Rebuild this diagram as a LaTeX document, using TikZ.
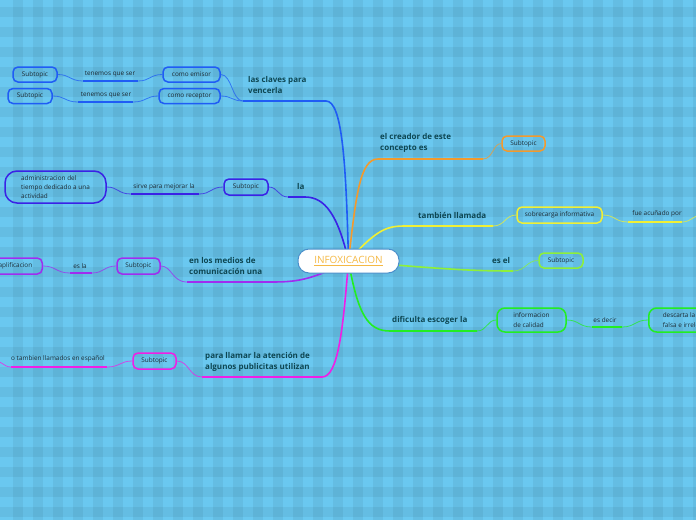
\documentclass[tikz,border=0pt]{standalone}
\usepackage{fontspec}
\setmainfont{Open Sans}
\definecolor{bgc}{HTML}{6AC8F0}
\definecolor{txt}{HTML}{1C2A33}
\definecolor{lab}{HTML}{0D4652}
\definecolor{cblue}{HTML}{1F5CF5}
\definecolor{cla}{HTML}{3A22E6}
\definecolor{cpur}{HTML}{A02CF0}
\definecolor{cmag}{HTML}{F01EE6}
\definecolor{corg}{HTML}{F29A2E}
\definecolor{cyel}{HTML}{F0F034}
\definecolor{clgr}{HTML}{8EF03A}
\definecolor{cgrn}{HTML}{22EE22}
\definecolor{cbord}{HTML}{4A8FCB}
\definecolor{ctitle}{HTML}{F5B945}
\pgfdeclarelayer{grid}
\pgfdeclarelayer{edges}
\pgfsetlayers{grid,edges,main}
\begin{document}
\begin{tikzpicture}[x=1pt,y=-1pt,
  box/.style={draw, rounded corners=5pt, line width=1.5pt, inner sep=0pt, minimum height=15pt,
    font=\fontsize{6.4}{8.5}\selectfont, text=txt},
  lbl/.style={font=\fontsize{8}{11}\selectfont\bfseries, text=lab, align=left, inner sep=0pt, anchor=west},
  ctext/.style={font=\fontsize{6.4}{8}\selectfont, text=txt, inner sep=0pt},
  mainln/.style={line width=1.6pt},
  subln/.style={line width=0.8pt, draw opacity=0.75},
  uline/.style={line width=2pt}]
\useasboundingbox (0,0) rectangle (696,520);
\clip (0,0) rectangle (696,520);

% ---------- nodes ----------
\node[draw=cbord, fill=white, line width=1pt, rounded corners=11pt, minimum width=101pt, minimum height=24pt,
  inner sep=0pt, font=\fontsize{10}{12}\selectfont, text=ctitle] (c) at (348.5,261) {\underline{INFOXICACION}};

% blue branch
\node[box, draw=cblue, minimum width=57pt] (b1a) at (191.5,74.5) {como emisor};
\node[box, draw=cblue, minimum width=61pt] (b1b) at (189.5,96) {como receptor};
\node[box, draw=cblue, minimum width=44pt] (s1a) at (35,74.5) {Subtopic};
\node[box, draw=cblue, minimum width=44pt] (s1b) at (30,96) {Subtopic};
\node[ctext] (t1a) at (110,74) {tenemos que ser};
\node[ctext] (t1b) at (106,95) {tenemos que ser};
\node[lbl] (l1) at (248,84.5) {las claves para\\vencerla};

% la branch
\node[box, draw=cla, minimum width=44pt, minimum height=16pt] (b2) at (246,187) {Subtopic};
\node[box, draw=cla, minimum width=101pt, minimum height=32pt, rounded corners=12pt, align=left,
  font=\fontsize{6.4}{8.6}\selectfont] (s2) at (55.5,187) {administracion del\\tiempo dedicado a una\\actividad};
\node[ctext] (t2) at (164,187) {sirve para mejorar la};
\node[lbl] (l2) at (297,186) {la};

% purple branch
\node[box, draw=cpur, minimum width=43pt, minimum height=16pt] (b3) at (138.5,266) {Subtopic};
\node[box, draw=cpur, minimum height=16pt, anchor=east, text width=70pt, align=right, inner xsep=10pt] (s3) at (43,266) {aplificacion};
\node[ctext] (t3) at (80,266) {es la};
\node[lbl] (l3) at (189,265.5) {en los medios de\\comunicación una};

% magenta branch
\node[box, draw=cmag, minimum width=43pt, minimum height=16pt] (b4) at (154.5,361) {Subtopic};
\node[ctext] (t4) at (58,359) {o tambien llamados en español};
\node[lbl] (l4) at (205,361.5) {para llamar la atención de\\algunos publicitas utilizan};

% orange branch
\node[box, draw=corg, minimum width=43pt] (b5) at (523.5,143.5) {Subtopic};
\node[lbl] (l5) at (380,142.5) {el creador de este\\concepto es};

% yellow branch
\node[box, draw=cyel, minimum width=85pt, minimum height=16pt] (b6) at (559.5,215) {sobrecarga informativa};
\node[ctext] (t6) at (657,214) {fue acuñado por};
\node[lbl] (l6) at (418,215) {también llamada};

% light green branch
\node[box, draw=clgr, minimum width=44pt] (b7) at (561,260.5) {Subtopic};
\node[lbl] (l7) at (492,260) {es el};

% green branch
\node[box, draw=cgrn, minimum width=69pt, minimum height=24pt, align=left, rounded corners=8pt,
  font=\fontsize{6.4}{10}\selectfont] (b8) at (531.5,320) {informacion\\de calidad};
\node[ctext] (t8) at (605,320) {es decir};
\node[box, draw=cgrn, minimum height=24pt, align=left, anchor=west, inner xsep=14pt, rounded corners=8pt,
  font=\fontsize{6.4}{10}\selectfont] (s8) at (648,320) {descarta la información\\falsa e irrelevante};
\node[lbl] (l8) at (392,320) {dificulta escoger la};

% ---------- coordinates ----------
\coordinate (k1) at (326,101);  \coordinate (k1e) at (243,101);
\coordinate (k2) at (305,197);  \coordinate (k2e) at (288,197);
\coordinate (k3) at (270,282);  \coordinate (k3e) at (187,282);
\coordinate (k4) at (322,377);  \coordinate (k4e) at (202,377);
\coordinate (k5) at (378,159);  \coordinate (k5e) at (483,159);
\coordinate (k6) at (410,226);  \coordinate (k6e) at (493,226);
\coordinate (k7e) at (513,271);
\coordinate (k8) at (390,331);  \coordinate (k8e) at (477,331);
\coordinate (u1aL) at (83,81);   \coordinate (u1aR) at (138,81);
\coordinate (u1bL) at (78,102);  \coordinate (u1bR) at (133,102);
\coordinate (u2L) at (131,194);  \coordinate (u2R) at (199,194);
\coordinate (u3L) at (70,273);   \coordinate (u3R) at (92,273);
\coordinate (u4L) at (11,367);   \coordinate (u4R) at (107,367);
\coordinate (u6L) at (628,222);  \coordinate (u6R) at (682,222);
\coordinate (u8L) at (592,327);  \coordinate (u8R) at (622,327);
\coordinate (off4) at (-8,360);
\coordinate (off6) at (704,214);

% ---------- grid background ----------
\begin{pgfonlayer}{grid}
  \fill[bgc] (0,0) rectangle (696,520);
  \foreach \i in {0,...,35} {\fill[black, opacity=0.05] (13+20*\i,0) rectangle +(10,520);}
  \foreach \i in {0,...,26} {\fill[black, opacity=0.05] (0,7+20*\i) rectangle +(696,10);}
\end{pgfonlayer}

% ---------- edges ----------
\begin{pgfonlayer}{edges}
  % blue
  \draw[mainln, cblue] (c.center) .. controls (346,160) and (342,101) .. (k1) -- (k1e);
  \draw[subln, cblue] (k1e) .. controls (232,101) and (232,74.5) .. (b1a.east);
  \draw[subln, cblue] (k1e) .. controls (232,101) and (232,96) .. (b1b.east);
  \draw[subln, cblue] (b1a.west) .. controls (150,74.5) and (150,81) .. (u1aR);
  \draw[uline, cblue] (u1aR) -- (u1aL);
  \draw[subln, cblue] (u1aL) .. controls (70,81) and (70,74.5) .. (s1a.east);
  \draw[subln, cblue] (b1b.west) .. controls (146,96) and (146,102) .. (u1bR);
  \draw[uline, cblue] (u1bR) -- (u1bL);
  \draw[subln, cblue] (u1bL) .. controls (65,102) and (65,96) .. (s1b.east);
  % la
  \draw[mainln, cla] (c.center) .. controls (338,215) and (325,197) .. (k2) -- (k2e);
  \draw[subln, cla] (k2e) .. controls (278,197) and (278,187) .. (b2.east);
  \draw[subln, cla] (b2.west) .. controls (211,187) and (211,194) .. (u2R);
  \draw[uline, cla] (u2R) -- (u2L);
  \draw[subln, cla] (u2L) .. controls (118,194) and (118,187) .. (s2.east);
  % purple
  \draw[mainln, cpur] (c.center) .. controls (310,281) and (295,282) .. (k3) -- (k3e);
  \draw[subln, cpur] (k3e) .. controls (172,282) and (172,266) .. (b3.east);
  \draw[subln, cpur] (b3.west) .. controls (104,266) and (104,273) .. (u3R);
  \draw[uline, cpur] (u3R) -- (u3L);
  \draw[subln, cpur] (u3L) .. controls (56,273) and (56,266) .. (s3.east);
  % magenta
  \draw[mainln, cmag] (c.center) .. controls (343,330) and (338,377) .. (k4) -- (k4e);
  \draw[subln, cmag] (k4e) .. controls (189,377) and (189,361) .. (b4.east);
  \draw[subln, cmag] (b4.west) .. controls (120,361) and (120,367) .. (u4R);
  \draw[uline, cmag] (u4R) -- (u4L);
  \draw[subln, cmag] (u4L) .. controls (3,367) and (2,360) .. (off4);
  % orange
  \draw[mainln, corg] (c.center) .. controls (356,195) and (360,159) .. (k5) -- (k5e);
  \draw[subln, corg] (k5e) .. controls (493,159) and (493,143.5) .. (b5.west);
  % yellow
  \draw[mainln, cyel] (c.center) .. controls (380,225) and (390,226) .. (k6) -- (k6e);
  \draw[subln, cyel] (k6e) .. controls (505,226) and (505,215) .. (b6.west);
  \draw[subln, cyel] (b6.east) .. controls (615,215) and (615,222) .. (u6L);
  \draw[uline, cyel] (u6L) -- (u6R);
  \draw[subln, cyel] (u6R) .. controls (692,222) and (694,214) .. (off6);
  % light green
  \draw[mainln, clgr] (c.center) .. controls (450,270) and (480,271) .. (k7e);
  \draw[subln, clgr] (k7e) .. controls (526,271) and (526,260.5) .. (b7.west);
  % green
  \draw[mainln, cgrn] (c.center) .. controls (358,315) and (368,331) .. (k8) -- (k8e);
  \draw[subln, cgrn] (k8e) .. controls (487,331) and (487,320) .. (b8.west);
  \draw[subln, cgrn] (b8.east) .. controls (579,320) and (579,327) .. (u8L);
  \draw[uline, cgrn] (u8L) -- (u8R);
  \draw[subln, cgrn] (u8R) .. controls (635,327) and (635,320) .. (s8.west);
\end{pgfonlayer}
\end{tikzpicture}
\end{document}
